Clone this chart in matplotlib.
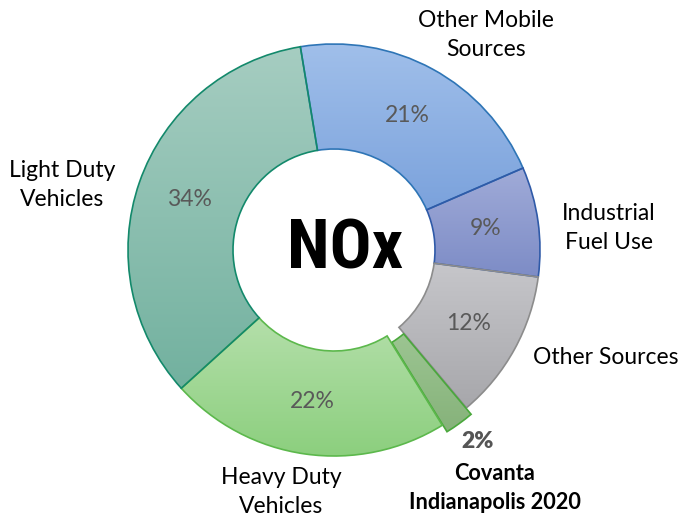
import numpy as np
import matplotlib
matplotlib.use('Agg')
import matplotlib.pyplot as plt
from matplotlib.colors import LinearSegmentedColormap
from matplotlib import font_manager as fm

# NOx emission shares (%), clockwise from the top
sources = ['Other Mobile\nSources', 'Industrial\nFuel Use', 'Other Sources',
           'Covanta\nIndianapolis 2020', 'Heavy Duty\nVehicles', 'Light Duty\nVehicles']
shares = [21.1, 8.6, 11.8, 2.3, 22.1, 34.1]
explode = [0, 0, 0, 8, 0, 0]

# gradient fills (top, bottom) and outline colours
grad_top = ['#a0bfea', '#a0abd8', '#c6c6ca', '#9cc592', '#b4dfaa', '#a6cdc1']
grad_bot = ['#7ba2dc', '#7d8cc6', '#a7a7ab', '#86b27a', '#8ccf7e', '#72b19f']
edges = ['#2e75b6', '#2f5aa8', '#8c8c8c', '#4aa83c', '#5cb84c', '#13896b']

names = {f.name for f in fm.fontManager.ttflist}
label_font = 'Lato' if 'Lato' in names else 'DejaVu Sans'
nox_font = next((n for n in ['Liberation Sans Narrow', 'Roboto Condensed', 'DejaVu Sans']
                 if n in names), 'DejaVu Sans')

fig = plt.figure(figsize=(6.79, 5.19), dpi=100)
fig.patch.set_facecolor('white')
ax = fig.add_axes([0, 0, 1, 1])

cx, cy, R = 334, 269, 206
wedges, _, pcts = ax.pie(shares, center=(cx, cy), radius=R, startangle=99.4,
                         counterclock=False, explode=explode,
                         autopct=lambda p: f'{p:.0f}%', pctdistance=0.745,
                         wedgeprops=dict(width=105, linewidth=1.2),
                         textprops=dict(fontsize=16.5, color='#595959', family=label_font))

grad = np.linspace(0, 1, 256)[:, None]
for w, t, b, e in zip(wedges, grad_top, grad_bot, edges):
    w.set_facecolor('none')
    w.set_edgecolor(e)
    w.set_zorder(3)
    bb = w.get_path().get_extents()
    cmap = LinearSegmentedColormap.from_list('g', [t, b])
    im = ax.imshow(grad, cmap=cmap, extent=(bb.x0, bb.x1, bb.y0, bb.y1),
                   origin='upper', aspect='auto', zorder=1)
    im.set_clip_path(w)

for p in pcts:
    p.set_zorder(4)
# Covanta share label sits outside the ring
pcts[3].set_position((478, 519 - 441))
pcts[3].set_fontweight('heavy')
pcts[3].set_color('#555555')

# category labels
label_pos = [(486, 35), (609, 228), (606, 357), (495, 488), (281, 492), (62, 185)]
for i, (name, (x, y)) in enumerate(zip(sources, label_pos)):
    bold = i == 3
    ax.text(x, 519 - y, name, ha='center', va='center',
            fontsize=15.7 if bold else 16.5,
            family=label_font, fontweight='bold' if bold else 'normal',
            color='black', linespacing=1.42)

ax.text(345, 519 - 250, 'NOx', ha='center', va='center', fontsize=50,
        family=nox_font, fontweight='bold', fontstretch='condensed', color='black')

ax.set_xlim(0, 679)
ax.set_ylim(0, 519)
ax.set_aspect('equal')
ax.axis('off')

fig.savefig('out.png', dpi=100)
